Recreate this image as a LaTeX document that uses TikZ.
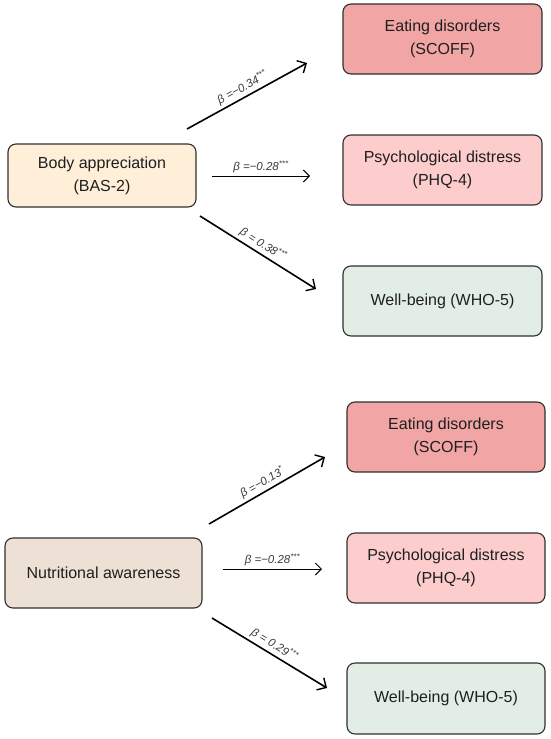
\documentclass[tikz,border=0pt]{standalone}
\usepackage{fontspec}
\setmainfont{Liberation Sans}
\usetikzlibrary{arrows.meta}
\definecolor{edfill}{HTML}{F2A5A5}
\definecolor{pdfill}{HTML}{FDCCCC}
\definecolor{wbfill}{HTML}{E2EEE5}
\definecolor{bafill}{HTML}{FFEED8}
\definecolor{nafill}{HTML}{EDE0D4}
\definecolor{edgecol}{HTML}{303030}
\definecolor{labcol}{HTML}{3A3A3A}
\begin{document}
\begin{tikzpicture}[x=1pt,y=-1pt,
  box/.style={draw=edgecol, line width=1.1pt, rounded corners=8pt, align=center,
    font=\fontsize{16}{23}\selectfont, text=black!88, inner sep=0pt,
    minimum width=199pt, minimum height=70pt},
  thickarrow/.style={-{Straight Barb[length=7pt,width=14pt,line width=1.4pt]}, line width=1.6pt},
  thinarrow/.style={-{Straight Barb[length=6pt,width=12pt,line width=1pt]}, line width=1pt},
  lab/.style={font=\fontsize{11.5}{13}\selectfont\itshape, text=labcol, sloped, above, midway, inner sep=2.5pt}]
\fill[white] (0,0) rectangle (550,739);
\useasboundingbox (0,0) rectangle (550,739);

% top group
\node[box, fill=bafill, minimum width=188pt, minimum height=63pt] (ba) at (102,175.5) {Body appreciation\\(BAS-2)};
\node[box, fill=edfill] (ed1) at (442.5,39) {Eating disorders\\(SCOFF)};
\node[box, fill=pdfill] (pd1) at (442.5,170) {Psychological distress\\(PHQ-4)};
\node[box, fill=wbfill] (wb1) at (442.5,301) {Well-being (WHO-5)};

\coordinate (a1s) at (187,129);  \coordinate (a1e) at (307,63);
\coordinate (a2s) at (212,176);  \coordinate (a2e) at (310,176);
\coordinate (a3s) at (200,216);  \coordinate (a3e) at (316,289);
\draw[thickarrow] (a1s) -- node[lab] {β =−0.34\textsuperscript{***}} (a1e);
\draw[thinarrow]  (a2s) -- node[lab] {β =−0.28\textsuperscript{***}} (a2e);
\draw[thickarrow] (a3s) -- node[lab] {β = 0.38\textsuperscript{***}} (a3e);

% bottom group
\node[box, fill=nafill, minimum width=197pt] (na) at (103.5,573) {Nutritional awareness};
\node[box, fill=edfill, minimum width=198pt] (ed2) at (446,437) {Eating disorders\\(SCOFF)};
\node[box, fill=pdfill, minimum width=198pt] (pd2) at (446,568) {Psychological distress\\(PHQ-4)};
\node[box, fill=wbfill, minimum width=198pt, minimum height=71pt] (wb2) at (446,698.5) {Well-being (WHO-5)};

\coordinate (b1s) at (209,524);  \coordinate (b1e) at (325,457);
\coordinate (b2s) at (223,569);  \coordinate (b2e) at (322,569);
\coordinate (b3s) at (212,618);  \coordinate (b3e) at (327,688);
\draw[thickarrow] (b1s) -- node[lab] {β =−0.13\textsuperscript{*}} (b1e);
\draw[thinarrow]  (b2s) -- node[lab] {β =−0.28\textsuperscript{***}} (b2e);
\draw[thickarrow] (b3s) -- node[lab] {β = 0.29\textsuperscript{***}} (b3e);
\end{tikzpicture}
\end{document}
